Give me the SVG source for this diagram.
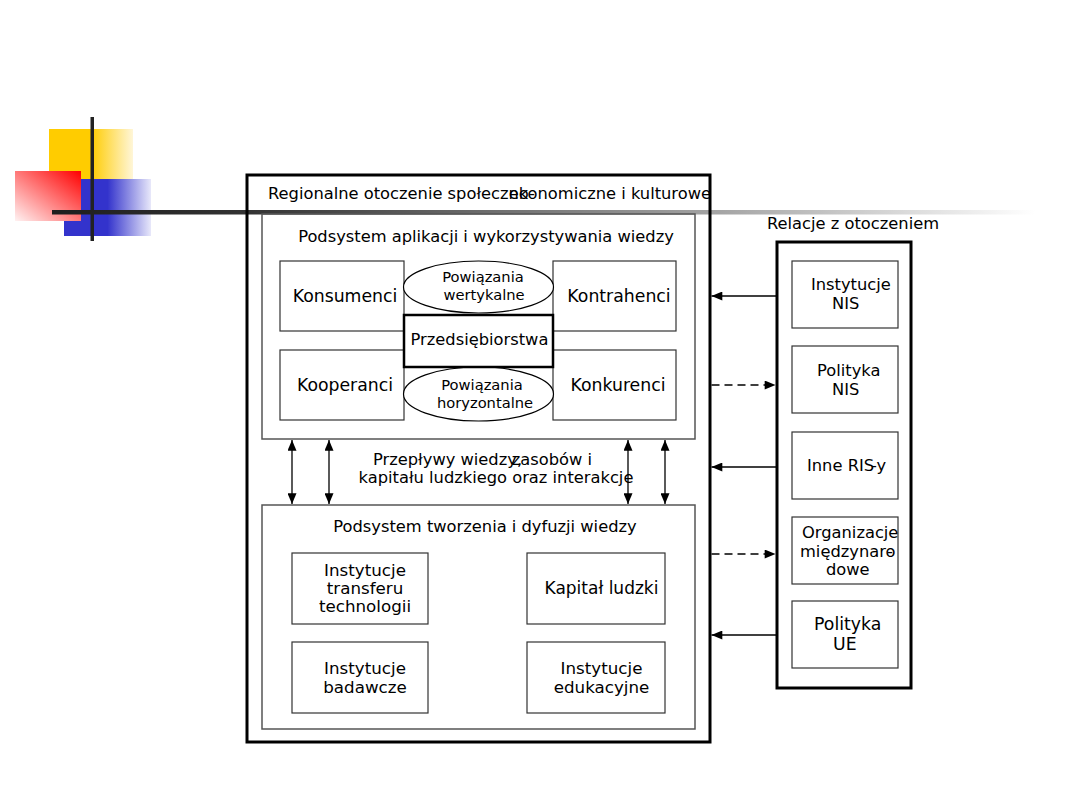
<svg xmlns="http://www.w3.org/2000/svg" width="1080" height="810" viewBox="0 0 1080 810">
<defs>
<linearGradient id="gy" x1="0" y1="0" x2="1" y2="0"><stop offset="0" stop-color="#FFCC00"/><stop offset="0.5" stop-color="#FFCC00"/><stop offset="1" stop-color="#FFF6D8"/></linearGradient>
<linearGradient id="gb" x1="0" y1="0" x2="1" y2="0"><stop offset="0" stop-color="#3333CC"/><stop offset="0.5" stop-color="#3333CC"/><stop offset="1" stop-color="#E8E8FA"/></linearGradient>
<linearGradient id="gr" x1="1" y1="0" x2="0" y2="1"><stop offset="0" stop-color="#FF0000"/><stop offset="1" stop-color="#FFF2F2"/></linearGradient>
<linearGradient id="gl" gradientUnits="userSpaceOnUse" x1="52" y1="0" x2="1035" y2="0"><stop offset="0" stop-color="#1e1e1e"/><stop offset="0.2" stop-color="#333"/><stop offset="0.7" stop-color="#aaa"/><stop offset="1" stop-color="#fff"/></linearGradient>
<marker id="ah" viewBox="0 0 12 10" refX="12" refY="5" markerWidth="12" markerHeight="9" markerUnits="userSpaceOnUse" orient="auto-start-reverse"><path d="M0,0 L12,5 L0,10 z" fill="#000"/></marker>
</defs>
<style>
text{font-family:"DejaVu Sans","Liberation Sans",sans-serif;fill:#000;font-size:16.3px}
.c{text-anchor:middle}
.box{fill:#fff;stroke:#333;stroke-width:1.2}
.sub{fill:none;stroke:#555;stroke-width:1.5}
.thick{fill:none;stroke:#000;stroke-width:3}
.conn{stroke:#000;stroke-width:1.3;fill:none}
.dash{stroke-dasharray:8,5}
</style>
<g id="decoration">
<rect x="49" y="129" width="84" height="51" fill="url(#gy)"/>
<rect x="64" y="179" width="87" height="57" fill="url(#gb)"/>
<rect x="15" y="171" width="66" height="50" fill="url(#gr)"/>
<rect x="90.5" y="117" width="3.5" height="124" fill="#222"/>
<rect x="52" y="210" width="983" height="4.5" fill="url(#gl)"/>
</g>
<g id="outer">
<rect class="thick" x="247" y="175" width="463" height="567"/>
<text x="268" y="199">Regionalne otoczenie społeczno-</text>
<text x="711" y="199" style="text-anchor:end">ekonomiczne i kulturowe</text>
</g>
<g id="sub1">
<rect class="sub" x="262" y="214" width="433" height="225"/>
<text class="c" x="486" y="242">Podsystem aplikacji i wykorzystywania wiedzy</text>
</g>
<g id="konsumenci"><rect class="box" x="280" y="261" width="124" height="70"/><text class="c" x="345" y="302" style="font-size:17.3px">Konsumenci</text></g>
<g id="kontrahenci"><rect class="box" x="553" y="261" width="123" height="70"/><text class="c" x="619" y="302" style="font-size:17.3px">Kontrahenci</text></g>
<g id="kooperanci"><rect class="box" x="280" y="350" width="124" height="70"/><text class="c" x="345" y="391" style="font-size:17.3px">Kooperanci</text></g>
<g id="konkurenci"><rect class="box" x="553" y="350" width="123" height="70"/><text class="c" x="618" y="391" style="font-size:17.3px">Konkurenci</text></g>
<g id="wertykalne"><ellipse cx="478.5" cy="287" rx="75" ry="26" fill="#fff" stroke="#000" stroke-width="1.2"/><text class="c" x="483" y="282" style="font-size:14.7px">Powiązania</text><text class="c" x="484" y="300" style="font-size:14.7px">wertykalne</text></g>
<g id="horyzontalne"><ellipse cx="478.5" cy="394" rx="75" ry="27" fill="#fff" stroke="#000" stroke-width="1.2"/><text class="c" x="482" y="390" style="font-size:14.7px">Powiązania</text><text class="c" x="485" y="408" style="font-size:14.7px">horyzontalne</text></g>
<g id="przedsiebiorstwa"><rect x="404" y="315" width="149" height="52" fill="#fff" stroke="#000" stroke-width="2.5"/><text class="c" x="479.5" y="345">Przedsiębiorstwa</text></g>
<g id="sub2">
<rect class="sub" x="262" y="505" width="433" height="224"/>
<text class="c" x="485" y="532">Podsystem tworzenia i dyfuzji wiedzy</text>
</g>
<g id="transfer"><rect class="box" x="292" y="553" width="136" height="71"/><text class="c" x="365" y="576" style="font-size:16.7px">Instytucje</text><text class="c" x="365" y="594" style="font-size:16.7px">transferu</text><text class="c" x="365" y="612" style="font-size:16.7px">technologii</text></g>
<g id="kapital"><rect class="box" x="527" y="553" width="138" height="71"/><text class="c" x="601.5" y="594" style="font-size:17px">Kapitał ludzki</text></g>
<g id="badawcze"><rect class="box" x="292" y="642" width="136" height="71"/><text class="c" x="365" y="674" style="font-size:16.7px">Instytucje</text><text class="c" x="365" y="693" style="font-size:16.7px">badawcze</text></g>
<g id="edukacyjne"><rect class="box" x="527" y="642" width="138" height="71"/><text class="c" x="601.5" y="674" style="font-size:16.7px">Instytucje</text><text class="c" x="601.5" y="693" style="font-size:16.7px">edukacyjne</text></g>
<g id="flow-label">
<text x="373" y="465">Przepływy wiedzy,</text>
<text x="592" y="465" style="text-anchor:end">zasobów i</text>
<text class="c" x="496" y="483">kapitału ludzkiego oraz interakcje</text>
</g>
<g id="relacje">
<text x="767" y="229">Relacje z otoczeniem</text>
<rect class="thick" x="777" y="242" width="134" height="446"/>
</g>
<g id="inst-nis"><rect class="box" x="792" y="261" width="106" height="67"/><text x="811" y="290">Instytucje</text><text x="832" y="309">NIS</text></g>
<g id="polityka-nis"><rect class="box" x="792" y="346" width="106" height="67"/><text x="817" y="376">Polityka</text><text x="832" y="395">NIS</text></g>
<g id="inne-ris"><rect class="box" x="792" y="432" width="106" height="67"/><text x="807" y="471">Inne RIS</text><text x="871" y="471">-y</text></g>
<g id="organizacje"><rect class="box" x="792" y="517" width="106" height="67"/><text x="802" y="538">Organizacje</text><text x="800" y="557">międzynaro</text><text x="887" y="557">-</text><text x="826" y="575">dowe</text></g>
<g id="polityka-ue"><rect class="box" x="792" y="601" width="106" height="67"/><text x="814" y="630" style="font-size:17.3px">Polityka</text><text x="833" y="650" style="font-size:17.3px">UE</text></g>
<g id="connectors">
<line class="conn" x1="292" y1="440" x2="292" y2="504" marker-start="url(#ah)" marker-end="url(#ah)"/>
<line class="conn" x1="329" y1="440" x2="329" y2="504" marker-start="url(#ah)" marker-end="url(#ah)"/>
<line class="conn" x1="628" y1="440" x2="628" y2="504" marker-start="url(#ah)" marker-end="url(#ah)"/>
<line class="conn" x1="665" y1="440" x2="665" y2="504" marker-start="url(#ah)" marker-end="url(#ah)"/>
<line class="conn" x1="776" y1="296" x2="711.5" y2="296" marker-end="url(#ah)"/>
<line class="conn dash" x1="711.5" y1="385" x2="775.5" y2="385" marker-end="url(#ah)"/>
<line class="conn" x1="776" y1="467" x2="711.5" y2="467" marker-end="url(#ah)"/>
<line class="conn dash" x1="711.5" y1="554" x2="775.5" y2="554" marker-end="url(#ah)"/>
<line class="conn" x1="776" y1="635" x2="711.5" y2="635" marker-end="url(#ah)"/>
</g>
</svg>
